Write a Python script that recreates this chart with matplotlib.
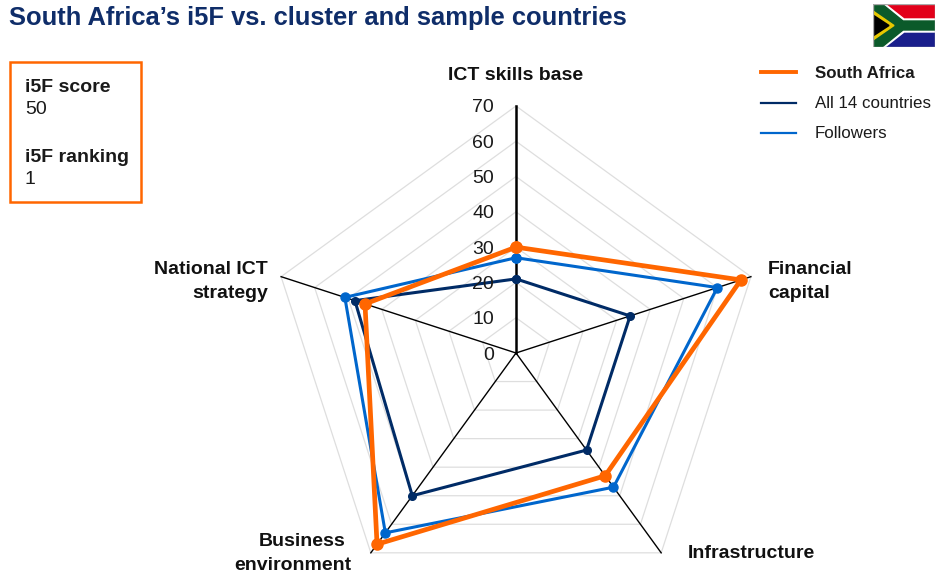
import numpy as np
import matplotlib.pyplot as plt
from matplotlib.lines import Line2D
from matplotlib.patches import Rectangle, Polygon

plt.rcParams['font.family'] = ['Liberation Sans', 'DejaVu Sans']

# data
categories = ['ICT skills base', 'Financial\ncapital', 'Infrastructure', 'Business\nenvironment', 'National ICT\nstrategy']
south_africa = [30, 67, 43, 67, 45]
all_countries = [21, 34, 34, 50, 48]
followers = [27, 60, 47, 63, 51]
r_ticks = [0, 10, 20, 30, 40, 50, 60, 70]

NAVY = '#002B66'
BLUE = '#0066CC'
ORANGE = '#FF6600'
TITLE = '#0F2D69'
W, H = 935, 573

fig = plt.figure(figsize=(W / 100, H / 100), dpi=100)


def fx(x):
    return x / W


def fy(y):
    return 1 - y / H


# radar axes, centre at 516,353 and radius 247 px
ax = fig.add_axes([fx(516 - 247), fy(353 + 247), 494 / W, 494 / H], projection='polar')
ax.set_theta_zero_location('N')
ax.set_theta_direction(-1)
ax.set_ylim(0, 70)
ax.axis('off')

angles = np.linspace(0, 2 * np.pi, len(categories), endpoint=False)
closed = np.append(angles, angles[0])

# pentagon grid
for r in r_ticks[1:]:
    ax.plot(closed, [r] * len(closed), color='#DEDEDE', lw=0.9, clip_on=False, zorder=1)

# spokes
for i, a in enumerate(angles):
    ax.plot([a, a], [0, 70], color='black', lw=1.8 if i == 0 else 1, clip_on=False, zorder=2)

series = [(all_countries, NAVY, 2.2, 5.5), (followers, BLUE, 2.2, 6.5), (south_africa, ORANGE, 3.4, 8)]
for vals, col, lw, ms in series:
    ax.plot(closed, vals + vals[:1], color=col, lw=lw, marker='o', ms=ms, clip_on=False, zorder=3)

# radial tick numbers
for r in r_ticks:
    y = 353 - r * 247 / 70
    fig.text(fx(494), fy(y + 2), str(r), ha='right', va='center', fontsize=14, color='#1A1A1A')

# category labels, one position per line of text
label_pos = [[(516, 75, 'center')],
             [(768, 269, 'left'), (768, 293, 'left')],
             [(751, 553, 'center')],
             [(302, 541, 'center'), (293, 565, 'center')],
             [(268, 269, 'right'), (268, 293, 'right')]]
for txt, spots in zip(categories, label_pos):
    for line, (x, y, ha) in zip(txt.split('\n'), spots):
        fig.text(fx(x), fy(y), line, ha=ha, va='center', fontsize=14, fontweight='bold', color='#111111')

# title
fig.text(fx(9), fy(18), 'South Africa\u2019s i5F vs. cluster and sample countries', ha='left', va='center',
         fontsize=18.4, fontweight='bold', color=TITLE)

# score box
fig.add_artist(Rectangle((fx(9.5), fy(202)), 131 / W, 140 / H, transform=fig.transFigure,
                         fill=False, edgecolor=ORANGE, lw=1.8))
box_lines = [('i5F score', 87, 'bold'), ('50', 109, 'normal'), ('i5F ranking', 158, 'bold'), ('1', 180, 'normal')]
for txt, y, weight in box_lines:
    fig.text(fx(25), fy(y), txt, ha='left', va='center', fontsize=14, fontweight=weight, color='#1A1A1A')

# legend
legend_rows = [('South Africa', ORANGE, 2.8, 72, 'bold'), ('All 14 countries', NAVY, 1.6, 103, 'normal'),
               ('Followers', BLUE, 1.6, 133, 'normal')]
for txt, col, lw, y, weight in legend_rows:
    fig.add_artist(Line2D([fx(761), fx(796)], [fy(y), fy(y)], color=col, lw=lw, transform=fig.transFigure))
    fig.text(fx(815), fy(y + 1), txt, ha='left', va='center', fontsize=12.2, fontweight=weight, color='#1A1A1A')

# flag
flag = fig.add_axes([fx(873), fy(47), 62 / W, 43 / H])
flag.set_xlim(0, 62)
flag.set_ylim(43, 0)
flag.axis('off')
flag.add_patch(Rectangle((0, 0), 62, 21.5, color='#E2001A'))
flag.add_patch(Rectangle((0, 21.5), 62, 21.5, color='#1A1F8C'))
flag.add_patch(Polygon([(0, 0), (12, 0), (31, 15), (62, 15), (62, 28), (31, 28), (12, 43), (0, 43)], color='white'))
flag.add_patch(Polygon([(0, 0), (9, 0), (30, 17), (62, 17), (62, 26), (30, 26), (9, 43), (0, 43)], color='#0B5A2A'))
flag.add_patch(Polygon([(0, 7), (21, 21.5), (0, 36)], color='#E8C800'))
flag.add_patch(Polygon([(0, 11), (16, 21.5), (0, 32)], color='black'))
flag.add_patch(Rectangle((0, 0), 62, 43, fill=False, edgecolor='#AAAAAA', lw=1))

fig.savefig('out.png', dpi=100)
